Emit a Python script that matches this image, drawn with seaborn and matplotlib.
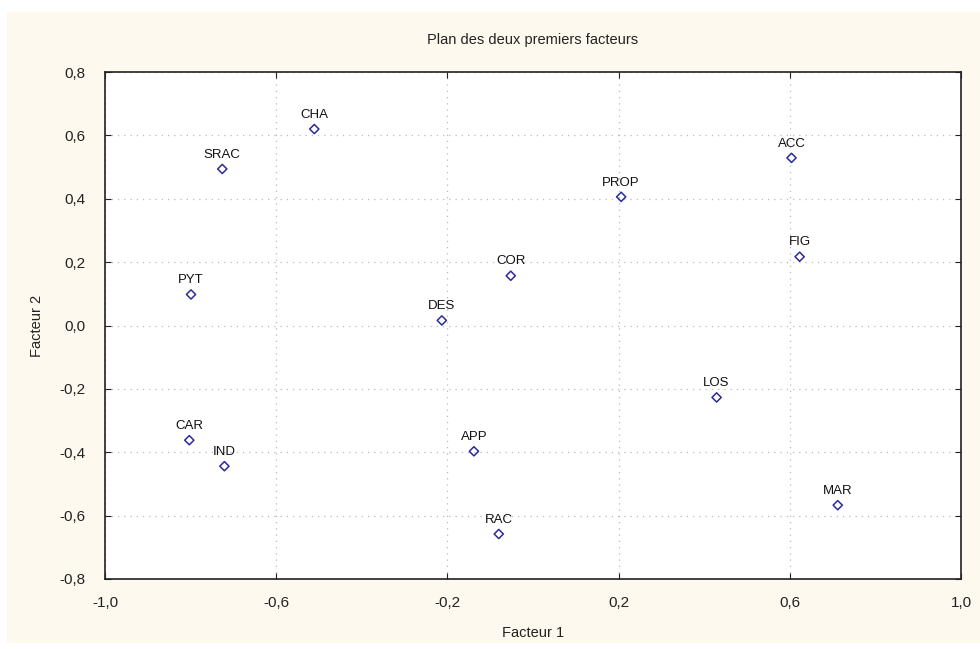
import numpy as np
import pandas as pd
import matplotlib
matplotlib.use("Agg")
import matplotlib.pyplot as plt
from matplotlib.patches import Rectangle
from matplotlib.ticker import FuncFormatter, FixedLocator
import seaborn as sns

sns.set_theme(style="ticks")
plt.rcParams['font.family'] = ['Liberation Sans', 'DejaVu Sans']

labels = ['CHA', 'SRAC', 'PYT', 'DES', 'COR', 'PROP', 'ACC',
          'FIG', 'LOS', 'MAR', 'CAR', 'IND', 'APP', 'RAC']
facteur1 = [-0.511, -0.726, -0.799, -0.213, -0.052, 0.206, 0.604,
            0.623, 0.429, 0.712, -0.803, -0.721, -0.138, -0.080]
facteur2 = [0.620, 0.494, 0.098, 0.016, 0.157, 0.406, 0.529,
            0.217, -0.227, -0.567, -0.362, -0.444, -0.397, -0.658]
xticks = [-1.0, -0.6, -0.2, 0.2, 0.6, 1.0]
yticks = [-0.8, -0.6, -0.4, -0.2, 0.0, 0.2, 0.4, 0.6, 0.8]

df = pd.DataFrame({'label': labels, 'Facteur 1': facteur1, 'Facteur 2': facteur2})

cream = '#fdf9ee'
fig = plt.figure(figsize=(9.8, 6.49), dpi=100)
fig.patch.set_facecolor('white')
fig.patches.append(Rectangle((7 / 980, 6 / 649), 1 - 7 / 980, 1 - 18 / 649,
                             transform=fig.transFigure, facecolor=cream,
                             edgecolor='none', zorder=-10))

ax = fig.add_axes([105 / 980, (649 - 579) / 649, (961 - 105) / 980, (579 - 72) / 649])
ax.set_facecolor('white')

sns.scatterplot(data=df, x='Facteur 1', y='Facteur 2', ax=ax, marker='D', s=22,
                facecolor='none', edgecolor='#2b2b9e', linewidth=1.1, zorder=3)

for _, r in df.iterrows():
    ax.annotate(r['label'], (r['Facteur 1'], r['Facteur 2']), xytext=(0, 6),
                textcoords='offset points', ha='center', va='bottom',
                fontsize=9.5, color='#111111')

ax.set_xlim(-1.0, 1.0)
ax.set_ylim(-0.8, 0.8)
ax.xaxis.set_major_locator(FixedLocator(xticks))
ax.yaxis.set_major_locator(FixedLocator(yticks))
fmt = FuncFormatter(lambda v, p: f"{v:.1f}".replace('.', ',').replace('-0,0', '0,0'))
ax.xaxis.set_major_formatter(fmt)
ax.yaxis.set_major_formatter(fmt)

ax.grid(True, linestyle=(0, (1, 4)), color='#bbbbbb', linewidth=0.9)
ax.tick_params(direction='in', top=True, right=True, length=4, width=0.8,
               labelsize=11, colors='#222222')
ax.tick_params(axis='x', pad=12)
ax.tick_params(axis='y', pad=14)
for s in ax.spines.values():
    s.set_color('#222222')
    s.set_linewidth(1.2)

ax.set_xlabel('Facteur 1', fontsize=10.5, color='#222222', labelpad=12)
ax.set_ylabel('Facteur 2', fontsize=10.5, color='#222222', labelpad=11)
ax.set_title('Plan des deux premiers facteurs', fontsize=10.5, color='#222222', pad=20)

fig.savefig('out.png', dpi=100, facecolor=fig.get_facecolor())
